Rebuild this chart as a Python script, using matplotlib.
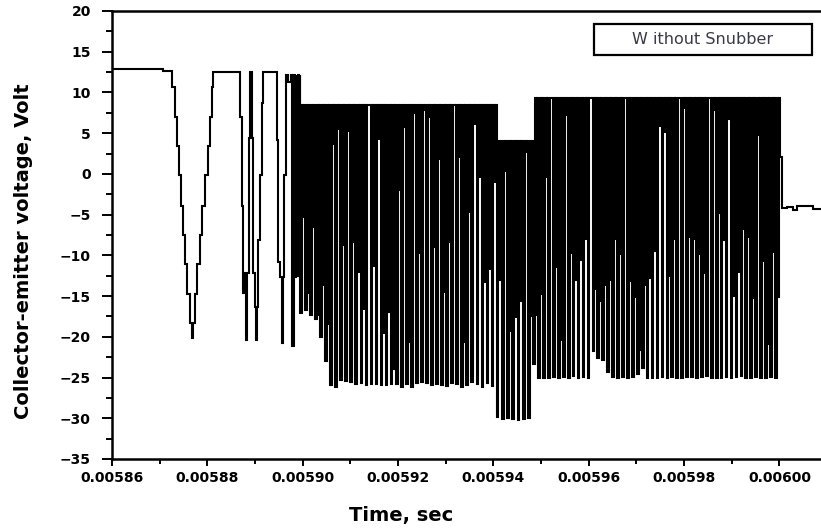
import numpy as np
import matplotlib
matplotlib.use("Agg")
import matplotlib.pyplot as plt
from matplotlib.ticker import MultipleLocator, FuncFormatter
from matplotlib.patches import Rectangle

# ---------------- data (time in microseconds, voltage in volts) ----------------
# early part of the waveform: times where the held value changes, and the new value
early_t = [5860.00, 5870.63, 5872.65, 5873.21, 5873.57, 5874.05, 5874.41, 5874.83,
           5875.31, 5875.79, 5876.36, 5876.72, 5877.05, 5877.41, 5877.89, 5878.46,
           5878.94, 5879.51, 5880.07, 5880.56, 5880.91, 5881.25, 5886.85, 5887.20,
           5887.54, 5887.83, 5888.11, 5888.38, 5888.67, 5888.95, 5889.30, 5889.64,
           5889.93, 5890.20, 5890.41, 5890.69, 5891.04, 5891.40, 5891.74, 5894.55,
           5894.88, 5895.24, 5895.59, 5895.87, 5896.14, 5896.43, 5896.98, 5897.48]
early_v = [12.84, 12.63, 10.71, 7.03, 3.43, -0.14, -3.90, -7.50,
           -11.06, -14.79, -18.35, -20.19, -18.35, -14.79, -11.06, -7.50,
           -3.90, -0.14, 3.43, 7.03, 10.71, 12.55, 7.03, -3.90,
           -14.67, -12.2, -20.4, -12.2, 4.37, 12.55, 4.37, -12.2,
           -16.3, -20.4, -16.3, -8.12, -0.14, 8.67, 12.55, 4.16,
           -10.78, -12.6, -20.8, -12.6, -0.14, 12.14, 11.3, 12.14]

# dense switching bursts: span (us), upper level, spike minima, intermediate dips
segA_span, segA_top = (5897.76, 5899.43), 12.14
segA_min = [-21.1, -12.5]
segA_dip = [-12.6, -11.4]

segB_span, segB_top = (5899.43, 5940.69), 8.5
segB_min = [-17.1, -16.7, -17.3, -17.8, -20.0, -23.0, -25.9, -26.1, -25.3, -25.4,
            -25.6, -25.8, -25.7, -25.9, -25.8, -25.8, -25.9, -25.9, -25.8, -25.8,
            -26.1, -25.8, -26.2, -25.7, -25.6, -25.7, -25.9, -25.8, -25.9, -26.0,
            -25.7, -25.8, -26.1, -25.9, -25.6, -25.8, -26.1, -25.7, -26.0]
segB_dip = [-5.3, -14.6, -6.5, -17.5, -13.8, -18.5, 3.5, 5.4, -8.9, 5.2,
            -8.5, -12.2, -16.7, 8.5, -11.4, 4.2, -19.6, -16.9, -24.0, -2.0,
            5.8, -20.6, 7.5, -9.7, 7.8, 7.0, -9.1, 1.7, -14.6, -8.5,
            8.3, 2.0, -20.8, -4.8, 5.95, -0.5, -13.4, -11.8, -1.1]

segC_span, segC_top = (5940.69, 5948.37), 4.08
segC_min = [-29.8, -30.1, -30.0, -30.1, -30.2, -30.1, -30.0]
segC_dip = [-13.0, 0.3, -19.4, -17.7, -15.7, 2.7, -17.5]

segD_span, segD_top = (5948.37, 6000.11), 9.28
segD_min = [-23.3, -25.1, -25.0, -25.1, -24.9, -25.0, -24.9, -25.0, -24.8, -25.0,
            -24.9, -25.1, -21.8, -22.6, -22.9, -24.3, -24.9, -25.0, -24.9, -25.0,
            -24.9, -24.6, -23.8, -25.0, -25.1, -25.0, -24.9, -25.0, -24.9, -25.0,
            -25.1, -24.9, -24.9, -25.0, -24.9, -24.8, -25.0, -25.1, -25.0, -24.9,
            -25.0, -24.9, -24.8, -25.0, -25.0, -24.9, -25.0, -25.0, -24.9, -25.0]
segD_dip = [-17.5, -14.9, -0.5, 9.28, -11.4, -20.4, 7.2, -9.75, -13.0, -10.6,
            -8.1, 9.28, -14.3, -15.7, -13.8, -13.2, -8.1, -10.0, 9.28, -13.2,
            -15.1, -21.6, -13.6, -12.8, -9.5, 5.8, 5.0, -12.6, -8.1, 9.28,
            8.0, -7.9, -8.1, -10.0, -12.2, 9.28, 7.8, -4.8, -8.1, 6.8,
            -15.1, -12.2, -6.9, -7.9, -15.3, 4.6, -10.8, -21.0, -9.75, -15.1]

tail_t = [6000.11, 6000.47, 6001.52, 6002.90, 6003.62, 6007.10, 6009.50]
tail_v = [2.1, -4.2, -4.05, -4.4, -4.0, -4.3, -4.3]

xticks_s = [0.00586, 0.00588, 0.00590, 0.00592, 0.00594, 0.00596, 0.00598, 0.00600]
legend_label = "W ithout Snubber"

# ---------------- assemble the held (step) waveform ----------------
US_PER_PX = 0.20975  # drawing offsets inside one switching burst (in pixel widths)
t_all = list(early_t)
v_all = list(early_v)
for span, top, mins, dips in [(segA_span, segA_top, segA_min, segA_dip),
                              (segB_span, segB_top, segB_min, segB_dip),
                              (segC_span, segC_top, segC_min, segC_dip),
                              (segD_span, segD_top, segD_min, segD_dip)]:
    period = (span[1] - span[0]) / len(mins)
    for i, (m, d) in enumerate(zip(mins, dips)):
        s = span[0] + i * period
        t_all += [s, s + 1.7 * US_PER_PX, s + 3.4 * US_PER_PX, s + 3.8 * US_PER_PX]
        v_all += [m, top, d, top]
t_all += tail_t
v_all += tail_v
t_sec = np.array(t_all) * 1e-6
v_arr = np.array(v_all)

# ---------------- figure ----------------
plt.rcParams['font.family'] = ['DejaVu Sans']
fig = plt.figure(figsize=(8.21, 5.31), dpi=100)
ax = fig.add_axes([112 / 821, 72 / 531, 709 / 821, 448 / 531])

ax.plot(t_sec, v_arr, drawstyle='steps-post', color='black', lw=1.5,
        solid_joinstyle='miter')

ax.set_xlim(5860e-6, 6008.71e-6)
ax.set_ylim(-35, 20)

ax.set_xticks(xticks_s)
ax.xaxis.set_minor_locator(MultipleLocator(0.00001))
ax.xaxis.set_major_formatter(FuncFormatter(lambda x, p: f"{x:.5f}"))
ax.yaxis.set_major_locator(MultipleLocator(5))
ax.yaxis.set_minor_locator(MultipleLocator(2.5))

ax.tick_params(axis='y', which='major', direction='out', length=7.2, width=1.4,
               pad=8, labelsize=10)
ax.tick_params(axis='y', which='minor', direction='out', length=4.3, width=1.4)
ax.tick_params(axis='x', which='major', direction='out', length=5, width=1.4,
               pad=4, labelsize=10)
ax.tick_params(axis='x', which='minor', direction='out', length=3.6, width=1.4)
for lbl in ax.get_xticklabels() + ax.get_yticklabels():
    lbl.set_fontweight('bold')

for side in ['left', 'bottom', 'top']:
    ax.spines[side].set_linewidth(1.8)
ax.spines['right'].set_visible(False)

fig.text(24 / 821, 1 - 251 / 531, "Collector-emitter voltage, Volt", rotation=90,
         ha='center', va='center', fontsize=14, fontweight='bold')
fig.text(401 / 821, 1 - 516 / 531, "Time, sec", ha='center', va='center',
         fontsize=14, fontweight='bold')

ax.add_patch(Rectangle((0.680, 0.902), 0.307, 0.069, transform=ax.transAxes,
                       facecolor='white', edgecolor='black', lw=1.6, zorder=5))
ax.text(0.833, 0.936, legend_label, transform=ax.transAxes, ha='center', va='center',
        fontsize=11.5, color='#3a3a48', zorder=6)

fig.savefig("out.png", dpi=100)
